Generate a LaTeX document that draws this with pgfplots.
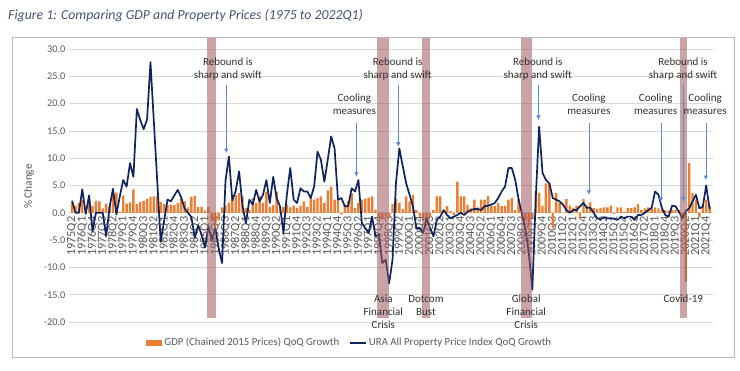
\documentclass[border=0pt]{standalone}
\usepackage{pgfplots}
\usepackage{pgfplotstable}
\pgfplotsset{compat=1.18}
\usetikzlibrary{arrows.meta}
\usepackage{fontspec}
\setmainfont{Carlito}
\definecolor{gdp}{HTML}{ED7D31}
\definecolor{ura}{HTML}{0E2460}
\definecolor{band}{HTML}{A0585C}
\definecolor{arrowc}{HTML}{5B8BD0}
\definecolor{titlec}{HTML}{44546A}
\definecolor{tickc}{HTML}{595959}
\definecolor{gridc}{HTML}{D9D9D9}
\definecolor{annc}{HTML}{303030}

\pgfplotstableread{
idx gdp ura
0 1.9 2.2
1 1.3 0.0
2 1.8 0.0
3 2.4 4.3
4 1.0 -0.2
5 2.0 3.2
6 1.2 -3.4
7 2.2 0.0
8 2.1 0.0
9 0.8 0.0
10 1.7 -4.3
11 1.2 1.0
12 3.9 4.4
13 3.7 -0.3
14 0.2 3.0
15 3.2 6.0
16 1.7 4.8
17 1.9 9.1
18 4.3 6.6
19 1.6 19.0
20 2.0 17.0
21 2.2 15.3
22 2.5 17.1
23 2.9 27.6
24 3.0 16.6
25 3.0 5.6
26 2.0 -5.3
27 1.6 -1.5
28 1.4 2.4
29 1.5 2.1
30 1.4 3.2
31 1.8 4.2
32 2.6 2.8
33 2.1 0.8
34 1.0 0.0
35 2.9 -0.8
36 3.1 -4.6
37 1.1 -2.3
38 1.1 -4.0
39 0.4 -6.4
40 1.1 -2.5
41 -1.5 -5.0
42 -2.6 -2.8
43 -1.4 -6.5
44 1.0 -9.2
45 1.3 5.8
46 1.8 10.3
47 2.6 2.3
48 3.3 4.0
49 3.6 7.6
50 3.0 1.2
51 0.9 -1.9
52 0.5 2.4
53 2.7 1.5
54 1.8 4.2
55 3.0 2.1
56 1.8 3.3
57 3.9 6.0
58 1.1 1.8
59 1.4 6.6
60 3.9 2.7
61 1.1 1.2
62 1.1 -3.7
63 1.5 3.3
64 1.0 8.2
65 1.3 2.4
66 0.9 1.8
67 1.3 4.5
68 2.1 3.9
69 1.1 3.9
70 2.7 2.7
71 2.4 4.8
72 2.7 11.2
73 3.0 9.7
74 1.8 5.7
75 4.1 9.7
76 4.8 14.0
77 2.4 11.8
78 2.4 2.4
79 -0.3 2.7
80 1.5 1.2
81 2.1 1.2
82 3.6 4.5
83 0.9 3.9
84 1.8 6.0
85 2.4 -1.9
86 2.6 -2.8
87 2.8 -3.7
88 3.0 -0.7
89 0.6 -4.3
90 -0.8 -4.0
91 -1.2 -9.2
92 -0.7 -8.6
93 -1.0 -12.9
94 1.6 -8.6
95 2.5 5.4
96 1.8 11.8
97 0.7 8.5
98 3.0 5.4
99 2.1 3.3
100 3.3 1.2
101 0.5 -2.8
102 -0.7 -2.8
103 -1.5 -3.7
104 -1.0 -1.0
105 -0.8 -2.8
106 0.5 -4.3
107 3.0 -1.3
108 3.0 -0.7
109 0.3 0.5
110 1.2 -0.4
111 0.3 -1.0
112 -0.4 -0.7
113 5.7 -0.4
114 3.0 0.0
115 3.0 -0.4
116 1.5 0.2
117 0.8 0.5
118 2.4 0.7
119 1.0 0.7
120 2.4 0.5
121 2.4 1.2
122 3.1 1.3
123 1.2 1.5
124 1.2 1.8
125 1.8 2.7
126 1.2 3.9
127 1.3 4.8
128 2.4 8.2
129 2.7 8.2
130 0.5 6.0
131 2.5 2.4
132 -0.7 -0.3
133 -1.5 -3.1
134 -2.5 -7.5
135 -1.0 -14.1
136 3.9 2.5
137 3.7 15.8
138 1.3 7.3
139 5.4 6.0
140 5.4 5.4
141 -2.8 2.7
142 3.6 2.4
143 1.8 2.1
144 0.0 1.5
145 2.5 0.5
146 1.3 0.0
147 0.9 0.5
148 1.3 0.5
149 -1.0 1.2
150 2.5 1.8
151 1.3 0.9
152 1.9 0.9
153 0.9 0.0
154 0.7 -1.0
155 0.9 -1.2
156 1.0 -0.8
157 1.0 -1.0
158 1.3 -1.0
159 -0.2 -1.1
160 1.0 -1.3
161 1.0 -0.7
162 0.2 -1.0
163 0.9 -0.7
164 0.9 -0.7
165 1.0 -1.3
166 1.6 -0.4
167 0.5 -0.4
168 0.8 0.0
169 1.0 0.5
170 0.8 0.9
171 1.0 3.9
172 0.8 3.3
173 0.6 0.9
174 0.5 -0.4
175 0.4 -0.7
176 0.5 1.3
177 0.6 1.2
178 0.5 0.2
179 -0.8 -1.0
180 -12.6 0.3
181 9.1 0.8
182 3.6 2.1
183 2.4 3.3
184 -0.8 0.8
185 1.2 1.1
186 2.4 5.0
187 1.2 0.7
}\chartdata

\begin{document}
\begin{tikzpicture}[
  ann/.style={align=center, text=annc, font=\fontsize{11}{13}\selectfont, inner sep=0pt},
  arr/.style={arrowc, line width=0.6pt, -{Latex[length=4.5pt,width=4.5pt]}},
]
\path[use as bounding box] (0pt,0pt) rectangle (740pt,-371pt);
\node[anchor=base west, inner sep=0pt, text=titlec, font=\fontsize{13.8}{16}\selectfont\itshape] at (8pt,-20pt) {Figure 1: Comparing GDP and Property Prices (1975 to 2022Q1)};
\draw[black!28, line width=0.8pt] (12pt,-37pt) rectangle (734pt,-357pt);
\begin{axis}[
  at={(69pt,-322pt)}, anchor=south west,
  scale only axis, width=644pt, height=273pt,
  xmin=-0.9, xmax=188, ymin=-20, ymax=30,
  clip=false,
  axis x line*=middle, axis y line*=left,
  axis line style={draw=none},
  hide obscured x ticks=false, hide obscured y ticks=false,
  major tick length=0pt,
  ytick={-20,-15,...,30},
  ymajorgrids, grid style={gridc, line width=0.7pt},
  yticklabel style={text=tickc, font=\fontsize{10.3}{12}\selectfont,
    /pgf/number format/.cd, fixed, fixed zerofill, precision=1, assume math mode=true},
  xtick={0,3,...,186},
  xticklabels={1975Q2,1976Q1,1976Q4,1977Q3,1978Q2,1979Q1,1979Q4,1980Q3,1981Q2,1982Q1,1982Q4,1983Q3,1984Q2,1985Q1,1985Q4,1986Q3,1987Q2,1988Q1,1988Q4,1989Q3,1990Q2,1991Q1,1991Q4,1992Q3,1993Q2,1994Q1,1994Q4,1995Q3,1996Q2,1997Q1,1997Q4,1998Q3,1999Q2,2000Q1,2000Q4,2001Q3,2002Q2,2003Q1,2003Q4,2004Q3,2005Q2,2006Q1,2006Q4,2007Q3,2008Q2,2009Q1,2009Q4,2010Q3,2011Q2,2012Q1,2012Q4,2013Q3,2014Q2,2015Q1,2015Q4,2016Q3,2017Q2,2018Q1,2018Q4,2019Q3,2020Q2,2021Q1,2021Q4},
  xticklabel style={rotate=90, anchor=east, text=tickc, font=\fontsize{12.3}{13}\selectfont, inner sep=3.5pt},
  every axis y label/.style={at={(axis description cs:-0.0621,0.496)}, rotate=90, anchor=center},
  ylabel={\% Change},
  ylabel style={text=tickc, font=\fontsize{11.3}{13}\selectfont},
  legend columns=2,
  legend style={at={(axis description cs:0.436,-0.076)}, anchor=center, draw=none, fill=none,
    font=\fontsize{10.8}{12}\selectfont, text=tickc,
    /tikz/every even column/.append style={column sep=8pt}},
]
\addplot[ybar, bar width=2.4pt, bar shift=0pt, fill=gdp, draw=none,
  legend image code/.code={\fill[gdp] (0pt,-2.8pt) rectangle (16pt,2.8pt);}]
  table[x=idx, y=gdp] {\chartdata};
\addlegendentry{GDP (Chained 2015 Prices) QoQ Growth}
\addplot[ura, line width=1.7pt, line join=round, mark=none,
  legend image code/.code={\draw[ura, line width=1.7pt] (0pt,0pt) -- (16pt,0pt);}]
  table[x=idx, y=ura] {\chartdata};
\addlegendentry{URA All Property Price Index QoQ Growth}

\fill[band, opacity=0.55] (axis cs:39.6,-19.2) rectangle (axis cs:42.2,32);
\fill[band, opacity=0.55] (axis cs:89.4,-19.2) rectangle (axis cs:93.0,32);
\fill[band, opacity=0.55] (axis cs:102.6,-19.2) rectangle (axis cs:105.0,32);
\fill[band, opacity=0.55] (axis cs:131.7,-19.2) rectangle (axis cs:134.9,32);
\fill[band, opacity=0.55] (axis cs:178.3,-19.2) rectangle (axis cs:180.4,32);

\node[ann] at (axis cs:45.7,26.3) {Rebound is\\sharp and swift};
\draw[arr] (axis cs:45.25,23.4) -- (axis cs:45.25,10.95);
\node[ann] at (axis cs:95.5,26.3) {Rebound is\\sharp and swift};
\draw[arr] (axis cs:95.7,23.4) -- (axis cs:95.7,12.1);
\node[ann] at (axis cs:82.8,19.8) {Cooling\\measures};
\draw[arr] (axis cs:83.4,16.4) -- (axis cs:83.4,6.6);
\node[ann] at (axis cs:136.6,26.3) {Rebound is\\sharp and swift};
\draw[arr] (axis cs:136.8,23.4) -- (axis cs:136.8,17.0);
\node[ann] at (axis cs:151.6,19.8) {Cooling\\measures};
\draw[arr] (axis cs:151.6,16.4) -- (axis cs:151.6,3.3);
\node[ann] at (axis cs:171.2,19.8) {Cooling\\measures};
\draw[arr] (axis cs:172.7,16.4) -- (axis cs:172.7,2.0);
\node[ann] at (axis cs:179.2,26.3) {Rebound is\\sharp and swift};
\draw[arr] (axis cs:179.3,23.4) -- (axis cs:179.3,2.0);
\node[ann] at (axis cs:185.7,19.8) {Cooling\\measures};
\draw[arr] (axis cs:185.9,16.4) -- (axis cs:185.9,6.0);

\node[ann] at (axis cs:91.3,-18.1) {Asia\\Financial\\Crisis};
\node[ann] at (axis cs:103.8,-16.9) {Dotcom\\Bust};
\node[ann] at (axis cs:133.2,-18.1) {Global\\Financial\\Crisis};
\node[ann] at (axis cs:179.3,-15.8) {Covid-19};
\end{axis}
\end{tikzpicture}
\end{document}
